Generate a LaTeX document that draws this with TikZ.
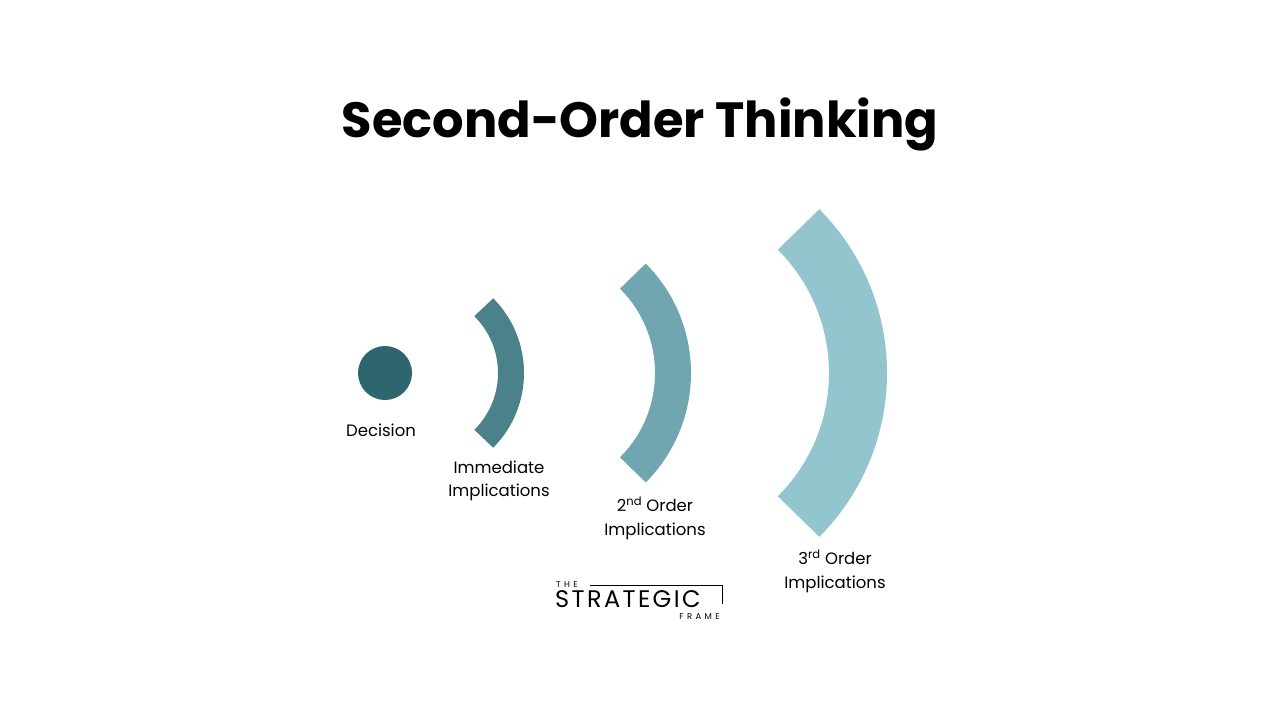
\documentclass[tikz,border=0pt]{standalone}
\usepackage{fontspec}
\setmainfont{Poppins}
\newfontfamily\logosmall[LetterSpace=40]{Poppins}
\newfontfamily\logobig[LetterSpace=10]{Poppins}
\definecolor{cA}{HTML}{2E6670}
\definecolor{cB}{HTML}{4A818A}
\definecolor{cC}{HTML}{6FA6AF}
\definecolor{cD}{HTML}{93C5CF}
\tikzset{lbl/.style={font=\fontsize{16.5}{23.5}\selectfont,align=center,inner sep=0}}
\begin{document}
\begin{tikzpicture}[x=1pt,y=-1pt]
\useasboundingbox (0,0) rectangle (1280,720);
\node (title) at (640,124) {\fontsize{49.5}{60}\selectfont\bfseries Second-Order Thinking};
\fill[cA] (385,373) circle (27);
\draw[cB,line width=26] (418,373) ++(-45:93) arc[start angle=-45,end angle=45,radius=93];
\draw[cC,line width=36] (536,373) ++(-45:137) arc[start angle=-45,end angle=45,radius=137];
\draw[cD,line width=58] (655,373) ++(-45:203) arc[start angle=-45,end angle=45,radius=203];
\node[lbl] (l1) at (381,430) {Decision};
\node[lbl] (l2) at (499,481) {Immediate\\Implications};
\node[lbl] (l3) at (655,518) {2\textsuperscript{nd} Order\\Implications};
\node[lbl] (l4) at (835,571) {3\textsuperscript{rd} Order\\Implications};
\node[inner sep=0,anchor=west] (the) at (556,585) {\logosmall\fontsize{8.5}{9}\selectfont THE};
\node[inner sep=0,anchor=west] (strat) at (555,599) {\logobig\fontsize{24}{24}\selectfont STRATEGIC};
\node[inner sep=0,anchor=east] (frame) at (720,617) {\logosmall\fontsize{8.5}{9}\selectfont FRAME};
\draw[line width=0.8] (590,585) -- (722,585) -- (722,604);
\end{tikzpicture}
\end{document}
